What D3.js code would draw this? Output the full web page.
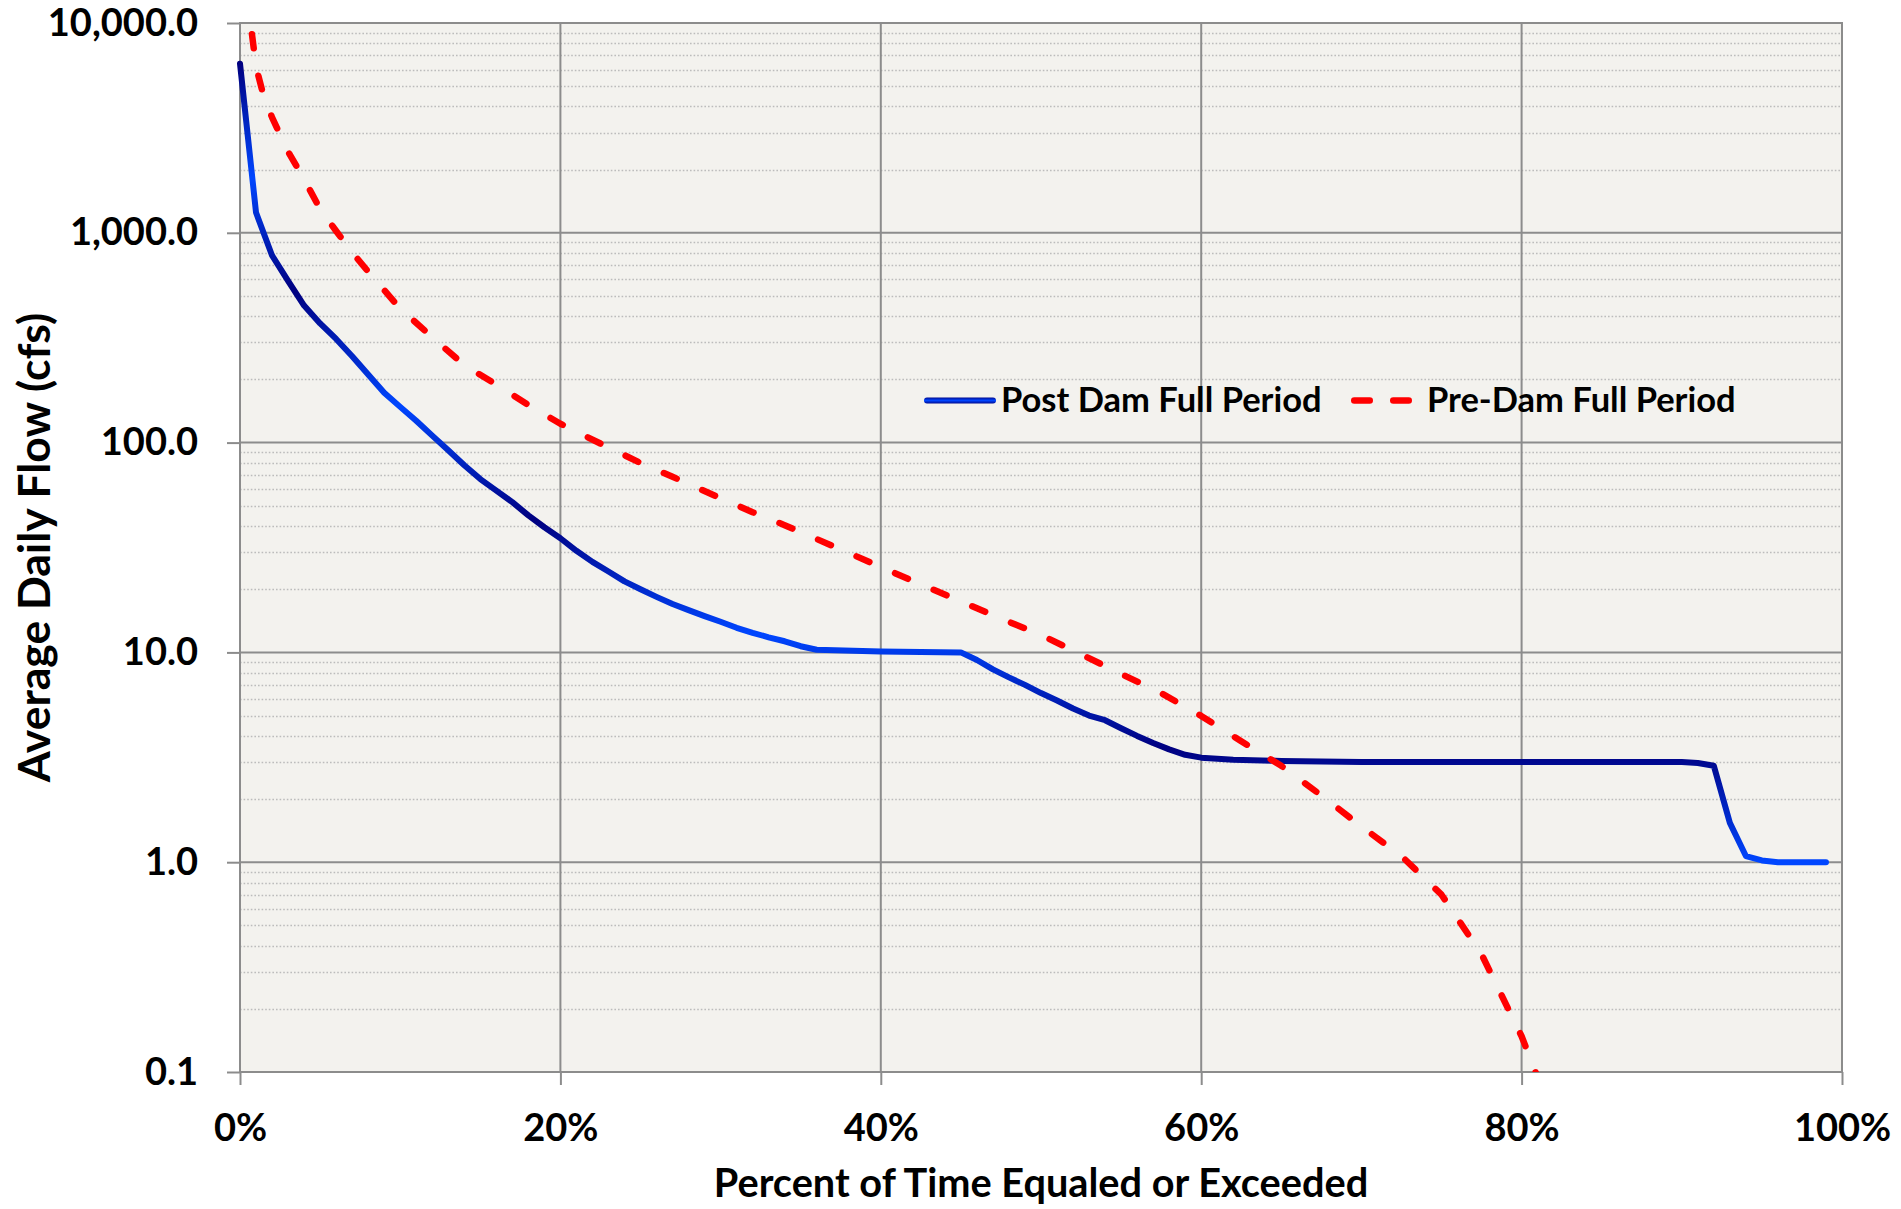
<!DOCTYPE html>
<html>
<head>
<meta charset="utf-8">
<script src="https://cdn.jsdelivr.net/npm/d3@7"></script>
<style>
  html, body { margin: 0; padding: 0; background: #ffffff; }
  svg { display: block; }
  text { font-family: Lato, "Open Sans", sans-serif; font-weight: 700; fill: #000; }
</style>
</head>
<body>
<svg id="chart" width="1901" height="1209"></svg>
<script>
// ---------------- data ----------------
const postDamPct = [0, 1, 2, 3, 4, 5, 6, 7, 8, 9, 10, 11, 12, 13, 14, 15, 16, 17, 18, 19, 20,
  21, 22, 23, 24, 25, 26, 27, 28, 29, 30, 31, 32, 33, 34, 35, 36, 40, 45, 46, 47, 48, 49, 50,
  51, 52, 53, 54, 55, 56, 57, 58, 59, 60, 62, 65, 70, 80, 90, 91, 92, 93, 94, 95, 96, 99];
const postDamFlow = [6400, 1250, 780, 590, 450, 370, 312, 258, 211, 173, 148, 127, 108, 92, 78, 67, 59, 52, 45, 39.5, 35,
  30.5, 27, 24.3, 21.8, 20, 18.4, 17, 15.9, 14.9, 14, 13.1, 12.4, 11.8, 11.3, 10.7, 10.3, 10.1, 10.0, 9.2, 8.3, 7.6, 7.0, 6.4,
  5.9, 5.4, 5.0, 4.75, 4.35, 4.0, 3.7, 3.45, 3.25, 3.15, 3.08, 3.04, 3.0, 3.0, 3.0, 2.97, 2.88, 1.54, 1.07, 1.02, 1.0, 1.0];

const preDamPct = [0, 0.5, 1, 1.5, 2, 3, 4, 5, 6, 7, 8, 9, 10, 12, 14, 16, 18, 20, 22.5, 25, 27, 30, 32, 34,
  36, 38, 40, 42.5, 45, 47.5, 50, 52.5, 55, 57.5, 60, 62.5, 65, 67.5, 70, 72.5, 75, 77.5, 80, 82];
const preDamFlow = [22000, 12500, 6200, 4400, 3550, 2440, 1800, 1300, 1020, 807, 653, 533, 435, 318, 234, 189, 151, 123, 99, 80, 68.7, 54.3, 46.6, 40.4,
  34.7, 29.8, 25.5, 21.1, 17.5, 14.5, 12.1, 9.8, 7.9, 6.4, 4.98, 3.77, 2.88, 2.08, 1.48, 1.07, 0.70, 0.364, 0.148, 0.06];

const seriesNames = ["Post Dam Full Period", "Pre-Dam Full Period"];
const yTickValues = [0.1, 1, 10, 100, 1000, 10000];
const xTickValues = [0, 0.2, 0.4, 0.6, 0.8, 1.0];
const xTitle = "Percent of Time Equaled or Exceeded";
const yTitle = "Average Daily Flow (cfs)";

// ---------------- layout ----------------
const svg = d3.select("#chart");
const plot = { left: 240, top: 23, width: 1602, height: 1049 };
const x = d3.scaleLinear().domain([0, 1]).range([0, plot.width]);
const y = d3.scaleLog().domain([0.1, 10000]).range([plot.height, 0]);

const gridMajor = "#8C8C8C";
const gridMinor = "#BCBCBC";
const navy = "#000080";
const bright = "#0046FF";

const defs = svg.append("defs");
defs.append("clipPath").attr("id", "plotClip")
  .append("rect").attr("x", 0).attr("y", 0).attr("width", plot.width).attr("height", plot.height);

// vertical banded gradient on the post-dam line (alternating navy / bright blue)
const grad = defs.append("linearGradient").attr("id", "postGrad")
  .attr("x1", 0).attr("y1", 0).attr("x2", 0).attr("y2", 1);
d3.range(8).forEach(i => {
  grad.append("stop").attr("offset", i / 7).attr("stop-color", i % 2 === 0 ? navy : bright);
});

const g = svg.append("g").attr("transform", `translate(${plot.left},${plot.top})`);

// plot background
g.append("rect").attr("width", plot.width).attr("height", plot.height).attr("fill", "#F3F2EE");

// minor gridlines
const minorVals = y.ticks().filter(v => !yTickValues.some(t => Math.abs(t - v) / t < 1e-9));
g.append("g").selectAll("line").data(minorVals).join("line")
  .attr("x1", 0).attr("x2", plot.width)
  .attr("y1", d => Math.round(y(d)) + 0.5).attr("y2", d => Math.round(y(d)) + 0.5)
  .attr("stroke", gridMinor).attr("stroke-width", 1.6).attr("stroke-dasharray", "1.6,2");

// major gridlines
g.append("g").selectAll("line").data(yTickValues.slice(1, -1)).join("line")
  .attr("x1", 0).attr("x2", plot.width)
  .attr("y1", d => y(d)).attr("y2", d => y(d))
  .attr("stroke", gridMajor).attr("stroke-width", 2);
g.append("g").selectAll("line").data(xTickValues.slice(1, -1)).join("line")
  .attr("y1", 0).attr("y2", plot.height)
  .attr("x1", d => x(d)).attr("x2", d => x(d))
  .attr("stroke", gridMajor).attr("stroke-width", 2);

// border
g.append("rect").attr("width", plot.width).attr("height", plot.height)
  .attr("fill", "none").attr("stroke", gridMajor).attr("stroke-width", 2);

// axes
const yAxis = d3.axisLeft(y).tickValues(yTickValues).tickFormat(d3.format(",.1f"))
  .tickSize(13).tickPadding(29);
const xAxis = d3.axisBottom(x).tickValues(xTickValues).tickFormat(d3.format(".0%"))
  .tickSize(13).tickPadding(29);

const gy = g.append("g").call(yAxis);
const gx = g.append("g").attr("transform", `translate(0,${plot.height})`).call(xAxis);
[gy, gx].forEach(ax => {
  ax.select(".domain").remove();
  ax.selectAll(".tick line").attr("stroke", gridMajor).attr("stroke-width", 2);
  ax.selectAll(".tick text").attr("fill", "#000")
    .style("font-family", "Lato, sans-serif").style("font-weight", 700).style("font-size", "38px");
});

// lines
const postData = postDamPct.map((p, i) => ({ p: p / 100, v: postDamFlow[i] }));
const preData = preDamPct.map((p, i) => ({ p: p / 100, v: preDamFlow[i] }));
const line = d3.line().x(d => x(d.p)).y(d => y(d.v));

g.append("path").datum(postData)
  .attr("d", line).attr("fill", "none")
  .attr("stroke", "url(#postGrad)").attr("stroke-width", 6)
  .attr("stroke-linejoin", "round").attr("stroke-linecap", "round");

g.append("path").datum(preData)
  .attr("clip-path", "url(#plotClip)")
  .attr("d", line).attr("fill", "none")
  .attr("stroke", "#FF0000").attr("stroke-width", 6.5)
  .attr("stroke-dasharray", "14,28")
  .attr("stroke-linejoin", "round").attr("stroke-linecap", "round");

// axis titles
svg.append("text")
  .attr("x", plot.left + plot.width / 2).attr("y", 1197)
  .attr("text-anchor", "middle").style("font-size", "39.7px")
  .text(xTitle);
svg.append("text")
  .attr("transform", `translate(50,${plot.top + plot.height / 2}) rotate(-90)`)
  .attr("text-anchor", "middle").style("font-size", "44.5px")
  .text(yTitle);

// legend
const lg = svg.append("g");
const lgGrad = defs.append("linearGradient").attr("id", "legGrad")
  .attr("gradientUnits", "userSpaceOnUse")
  .attr("x1", 0).attr("y1", 397).attr("x2", 0).attr("y2", 404);
[[0, navy], [0.5, bright], [1, navy]].forEach(s =>
  lgGrad.append("stop").attr("offset", s[0]).attr("stop-color", s[1]));
lg.append("line").attr("x1", 927).attr("x2", 993).attr("y1", 400.5).attr("y2", 400.5)
  .attr("stroke", "url(#legGrad)").attr("stroke-width", 6).attr("stroke-linecap", "round");
lg.append("text").attr("x", 1001).attr("y", 412).style("font-size", "34.5px").text(seriesNames[0]);
lg.append("line").attr("x1", 1354.25).attr("x2", 1408.75).attr("y1", 400.5).attr("y2", 400.5)
  .attr("stroke", "#FF0000").attr("stroke-width", 6.5).attr("stroke-dasharray", "15.5,23.5")
  .attr("stroke-linecap", "round");
lg.append("text").attr("x", 1427).attr("y", 412).style("font-size", "34.5px").text(seriesNames[1]);
</script>
</body>
</html>
